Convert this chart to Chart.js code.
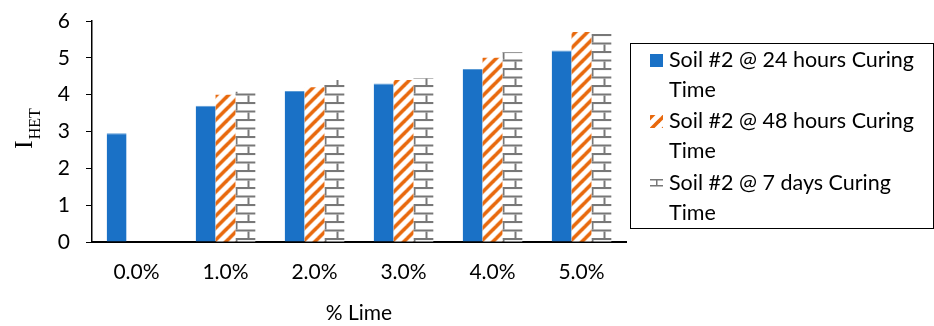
<!DOCTYPE html>
<html>
<head>
<meta charset="utf-8">
<script src="https://cdn.jsdelivr.net/npm/chart.js@4.4.1/dist/chart.umd.min.js"></script>
<style>
  html, body { margin: 0; padding: 0; background: #fff; }
  #wrap { width: 934px; height: 326px; position: relative; }
</style>
</head>
<body>
<div id="wrap"><canvas id="c" width="934" height="326"></canvas></div>
<script>
// Lime content (% by weight) on the category axis
const limeLabels = ['0.0%', '1.0%', '2.0%', '3.0%', '4.0%', '5.0%'];
// I_HET values for each curing time
const cure24h = [2.95, 3.7, 4.1, 4.3, 4.7, 5.2];
const cure48h = [null, 4.0, 4.2, 4.4, 5.0, 5.7];
const cure7d  = [null, 4.08, 4.4, 4.45, 5.15, 5.65];
const seriesNames = [
  ['Soil #2 @ 24 hours Curing', 'Time'],
  ['Soil #2 @ 48 hours Curing', 'Time'],
  ['Soil #2 @ 7 days Curing', 'Time']
];
const yTicks = [0, 1, 2, 3, 4, 5, 6];

const BLUE = '#1a71c6';
const ORANGE = '#e8680c';
const GREY = '#787878';
const CAT_PCT = 0.67;
const FONT = 'Lato';

function stripeTile() {
  const t = document.createElement('canvas');
  t.width = 12; t.height = 12;
  const g = t.getContext('2d');
  g.fillStyle = '#fff';
  g.fillRect(0, 0, 12, 12);
  g.strokeStyle = ORANGE;
  g.lineWidth = 3.6;
  g.lineCap = 'butt';
  for (const o of [-12, 0, 12]) {
    g.beginPath();
    g.moveTo(o - 2, 14);
    g.lineTo(o + 14, -2);
    g.stroke();
  }
  return t;
}

function brickTile() {
  const t = document.createElement('canvas');
  t.width = 24; t.height = 17;
  const g = t.getContext('2d');
  g.fillStyle = '#fff';
  g.fillRect(0, 0, 24, 17);
  g.fillStyle = GREY;
  g.fillRect(0, 0, 24, 2);
  g.fillRect(0, 8.5, 24, 2);
  g.fillRect(0, 2, 2, 6.5);
  g.fillRect(12, 10.5, 2, 6.5);
  return t;
}

const stripeCanvas = stripeTile();
const brickCanvas = brickTile();

// Pattern anchored to the left edge of the bar being drawn
function barPattern(tile, slot) {
  return function (ctx) {
    const chart = ctx.chart;
    const g = chart.ctx;
    const p = g.createPattern(tile, 'repeat');
    const xs = chart.scales && chart.scales.x;
    if (xs && xs.width && ctx.dataIndex !== undefined) {
      const cat = xs.width / limeLabels.length;
      const bw = cat * CAT_PCT / 3;
      const left = xs.getPixelForValue(ctx.dataIndex) - 1.5 * bw + slot * bw;
      if (p.setTransform) p.setTransform(new DOMMatrix().translate(left, 0));
    }
    return p;
  };
}

// Wrapped legend drawn to the right of the plot, inside a framed box
const boxLegend = {
  id: 'boxLegend',
  afterDraw(chart) {
    const g = chart.ctx;
    const x0 = 630.5, y0 = 43.5, x1 = 933.5, y1 = 228.5;
    g.save();
    g.strokeStyle = '#000';
    g.lineWidth = 1;
    g.strokeRect(x0, y0, x1 - x0, y1 - y0);
    g.font = '21.5px ' + FONT;
    g.fillStyle = '#000';
    g.textBaseline = 'middle';
    const rows = [60, 121, 183];
    rows.forEach((cy, i) => {
      const sx = 650, sy = cy - 6, s = 13;
      if (i === 0) {
        g.fillStyle = BLUE;
        g.fillRect(sx, sy, s, s);
      } else if (i === 1) {
        g.fillStyle = g.createPattern(stripeCanvas, 'repeat');
        g.fillRect(sx, sy, s, s);
      } else {
        g.fillStyle = GREY;
        g.fillRect(sx, sy + 2, 13, 1.5);
        g.fillRect(sx, sy + 8, 13, 1.5);
        g.fillRect(sx + 6, sy + 3, 1.5, 5);
      }
      g.fillStyle = '#000';
      g.fillText(seriesNames[i][0], 669, cy);
      g.fillText(seriesNames[i][1], 669, cy + 30);
    });
    g.restore();
  }
};

// Y-axis title: I with subscript HET, rotated
const yTitle = {
  id: 'yTitle',
  afterDraw(chart) {
    const g = chart.ctx;
    g.save();
    g.translate(32, 149);
    g.rotate(-Math.PI / 2);
    g.fillStyle = '#000';
    g.textBaseline = 'alphabetic';
    g.font = '26px "Liberation Serif"';
    g.fillText('I', 0, 0);
    const w = g.measureText('I').width;
    g.font = '16px "Liberation Serif"';
    g.fillText('HET', w + 1, 8);
    g.restore();
  }
};

new Chart(document.getElementById('c'), {
  type: 'bar',
  data: {
    labels: limeLabels,
    datasets: [
      { label: seriesNames[0].join(' '), data: cure24h, backgroundColor: BLUE,
        borderColor: '#5b9bd5', borderWidth: { top: 1, left: 0, right: 0, bottom: 0 } },
      { label: seriesNames[1].join(' '), data: cure48h, backgroundColor: barPattern(stripeCanvas, 1), borderWidth: 0 },
      { label: seriesNames[2].join(' '), data: cure7d, backgroundColor: barPattern(brickCanvas, 2), borderWidth: 0 }
    ]
  },
  options: {
    responsive: false,
    animation: false,
    devicePixelRatio: 1,
    layout: { padding: { left: 0, top: 21, right: 308, bottom: 0 } },
    datasets: { bar: { barPercentage: 1, categoryPercentage: CAT_PCT } },
    plugins: { legend: { display: false }, tooltip: { enabled: false } },
    scales: {
      x: {
        grid: { display: false, drawTicks: false },
        border: { display: true, color: '#000', width: 2 },
        ticks: { color: '#000', font: { family: FONT, size: 21 }, padding: 18, maxRotation: 0 },
        title: { display: true, text: '% Lime', color: '#000', font: { family: FONT, size: 21 }, padding: { top: 12, bottom: 0 } },
        afterFit(s) { s.height = 84; }
      },
      y: {
        min: 0, max: 6,
        afterBuildTicks(s) { s.ticks = yTicks.map(v => ({ value: v })); },
        grid: { display: true, drawOnChartArea: false, drawTicks: true, tickLength: 6, color: '#000', tickColor: '#000' },
        border: { display: true, color: '#000', width: 1.5 },
        ticks: { color: '#000', font: { family: FONT, size: 21 }, padding: 16 },
        afterFit(s) { s.width = 92; s.paddingTop = 12; s.paddingBottom = 12; }
      }
    }
  },
  plugins: [boxLegend, yTitle]
});
</script>
</body>
</html>
